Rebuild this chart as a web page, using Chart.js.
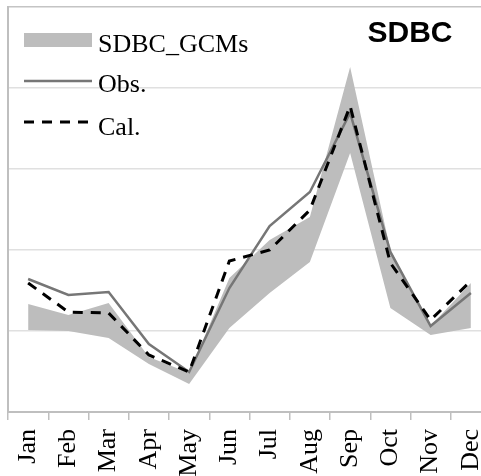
<!DOCTYPE html>
<html>
<head>
<meta charset="utf-8">
<script src="https://cdn.jsdelivr.net/npm/chart.js@4.4.1/dist/chart.umd.min.js"></script>
<style>
  html, body { margin: 0; padding: 0; background: #ffffff; overflow: hidden; }
  #wrap { width: 481px; height: 476px; overflow: hidden; position: relative; }
  canvas { position: absolute; left: 0; top: 0; }
</style>
</head>
<body>
<div id="wrap"><canvas id="c" width="491" height="476" style="width:491px;height:476px"></canvas></div>
<script>
// Monthly values (mm)
const months = ['Jan','Feb','Mar','Apr','May','Jun','Jul','Aug','Sep','Oct','Nov','Dec'];
const obs    = [82.1, 72.2, 74.1, 42.0, 24.7, 76.5, 114.8, 135.8, 184.6, 98.8, 53.1, 73.5];
const cal    = [79.6, 61.7, 61.1, 35.2, 24.7, 93.2, 100.0, 124.7, 188.9, 92.0, 56.8, 80.9];
const gcmMax = [66.7, 59.9, 67.3, 34.0, 24.1, 82.7, 106.2, 120.4, 213.0, 100.0, 53.1, 79.6];
const gcmMin = [50.6, 50.0, 45.7, 29.6, 17.3, 51.9, 73.5, 92.6, 159.9, 64.2, 47.5, 51.9];
const yTicks = [0, 50, 100, 150, 200, 250];

const bandColor = '#bdbdbd';
const obsColor = '#767676';
const serif = '"Liberation Serif", "Times New Roman", serif';

// Legend and panel title drawn inside the plot area
const overlay = {
  id: 'overlay',
  afterDraw(chart) {
    const ctx = chart.ctx;
    ctx.save();
    // band swatch
    ctx.fillStyle = bandColor;
    ctx.fillRect(24, 33, 68, 14);
    // observed
    ctx.strokeStyle = obsColor;
    ctx.lineWidth = 2.5;
    ctx.setLineDash([]);
    ctx.beginPath(); ctx.moveTo(24, 81); ctx.lineTo(92, 81); ctx.stroke();
    // calculated
    ctx.strokeStyle = '#000000';
    ctx.lineWidth = 3;
    ctx.setLineDash([10, 8]);
    ctx.beginPath(); ctx.moveTo(24, 122); ctx.lineTo(94, 122); ctx.stroke();
    ctx.setLineDash([]);
    ctx.fillStyle = '#000000';
    ctx.font = '26px ' + serif;
    ctx.textAlign = 'left';
    ctx.textBaseline = 'alphabetic';
    ctx.fillText('SDBC_GCMs', 98, 52);
    ctx.fillText('Obs.', 98, 92);
    ctx.fillText('Cal.', 98, 135);
    // title
    ctx.font = 'bold 30px "Liberation Sans", Arial, sans-serif';
    ctx.textAlign = 'center';
    ctx.fillText('SDBC', 410, 42);
    ctx.restore();
  }
};

new Chart(document.getElementById('c'), {
  type: 'line',
  data: {
    labels: months,
    datasets: [
      { label: 'GCM min', data: gcmMin, borderWidth: 0, pointRadius: 0, fill: false, backgroundColor: bandColor, order: 3 },
      { label: 'SDBC_GCMs', data: gcmMax, borderWidth: 0, pointRadius: 0, fill: '-1', backgroundColor: bandColor, order: 3 },
      { label: 'Obs.', data: obs, borderColor: obsColor, borderWidth: 2.5, pointRadius: 0, fill: false, tension: 0, order: 2 },
      { label: 'Cal.', data: cal, borderColor: '#000000', borderWidth: 3, borderDash: [10, 8], pointRadius: 0, fill: false, tension: 0, order: 1 }
    ]
  },
  options: {
    responsive: false,
    animation: false,
    layout: { padding: { top: 7, right: 0, left: 0, bottom: 0 } },
    plugins: { legend: { display: false }, tooltip: { enabled: false }, title: { display: false } },
    scales: {
      x: {
        offset: true,
        grid: { offset: true, drawOnChartArea: false, tickLength: 8, color: '#bfbfbf', lineWidth: 1.5 },
        border: { color: '#bfbfbf', width: 2 },
        ticks: { minRotation: 90, maxRotation: 90, autoSkip: false, padding: 9, color: '#000000', font: { family: serif, size: 26 } },
        afterFit(scale) {
          scale.height = 64;
          scale.paddingLeft = 0;
          scale.paddingRight = 0;
        }
      },
      y: {
        min: yTicks[0],
        max: yTicks[yTicks.length - 1],
        afterBuildTicks(scale) { scale.ticks = yTicks.map(v => ({ value: v })); },
        ticks: { display: false },
        grid: {
          drawTicks: false,
          lineWidth: 1.5,
          color: (c) => (c.tick && c.tick.value === yTicks[yTicks.length - 1]) ? '#c4c4c4' : '#e0e0e0'
        },
        border: { color: '#bfbfbf', width: 2 },
        afterFit(scale) { scale.width = 8; }
      }
    }
  },
  plugins: [overlay]
});
</script>
</body>
</html>
